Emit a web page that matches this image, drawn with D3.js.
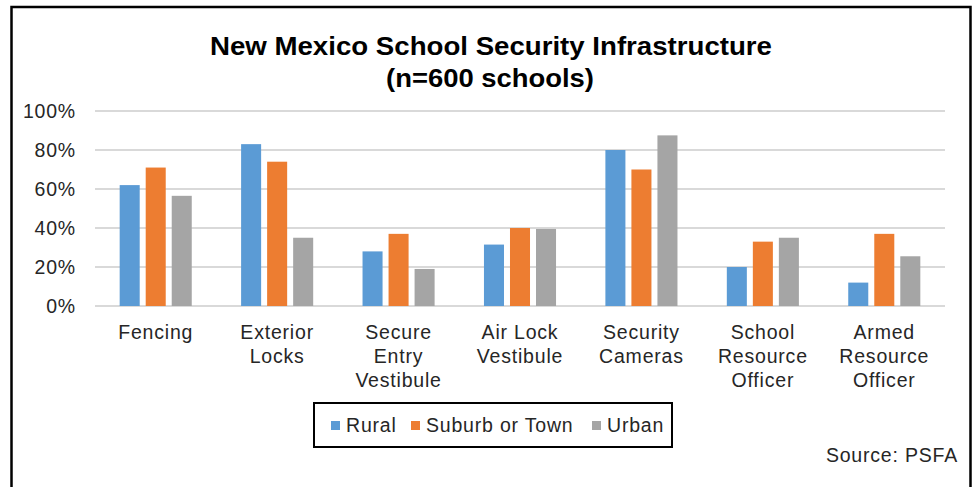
<!DOCTYPE html>
<html>
<head>
<meta charset="utf-8">
<script src="https://cdn.jsdelivr.net/npm/d3@7"></script>
<style>
  html, body { margin: 0; padding: 0; background: #fff; }
  svg { display: block; font-family: Arial, "Liberation Sans", sans-serif; }
  .lbl { font-size: 19.5px; letter-spacing: 0.8px; fill: #262626; }
</style>
</head>
<body>
<svg id="chart" width="974" height="487"></svg>
<script>
// Share of schools with each kind of security infrastructure, by locale
const categories = [
  ["Fencing"],
  ["Exterior", "Locks"],
  ["Secure", "Entry", "Vestibule"],
  ["Air Lock", "Vestibule"],
  ["Security", "Cameras"],
  ["School", "Resource", "Officer"],
  ["Armed", "Resource", "Officer"]
];
const seriesNames = ["Rural", "Suburb or Town", "Urban"];
const rural   = [0.62, 0.83, 0.28, 0.315, 0.80, 0.20, 0.12];
const suburb  = [0.71, 0.74, 0.37, 0.40, 0.70, 0.33, 0.37];
const urban   = [0.565, 0.35, 0.19, 0.395, 0.875, 0.35, 0.255];
const yTicks  = [0, 0.2, 0.4, 0.6, 0.8, 1.0];
const colors  = ["#5B9BD5", "#ED7D31", "#A5A5A5"];

const values = [rural, suburb, urban];
const catKeys = categories.map(c => c.join(" "));

const svg = d3.select("#chart");
const W = 974, H = 487;
const plot = { left: 95, right: 945, top: 111, bottom: 306 };

// Outer frame (left, top, right edges; runs past the bottom)
svg.append("path")
  .attr("d", `M11.5,${H} V7 H970.5 V${H}`)
  .attr("fill", "none").attr("stroke", "#000").attr("stroke-width", 2.5);

// Title
const title = svg.append("text")
  .attr("text-anchor", "middle")
  .attr("font-weight", "bold").attr("font-size", 25).attr("fill", "#000");
title.append("tspan").attr("x", 491).attr("y", 55)
  .attr("textLength", 562).attr("lengthAdjust", "spacingAndGlyphs")
  .text("New Mexico  School  Security  Infrastructure");
const title2 = svg.append("text")
  .attr("text-anchor", "middle")
  .attr("font-weight", "bold").attr("font-size", 25).attr("fill", "#000");
title2.append("tspan").attr("x", 490).attr("y", 87)
  .attr("textLength", 208).attr("lengthAdjust", "spacingAndGlyphs")
  .text("(n=600 schools)");

// Scales
const x0 = d3.scaleBand().domain(catKeys).range([plot.left, plot.right])
  .paddingInner(0.357).paddingOuter(0.1785);
const x1 = d3.scaleBand().domain(seriesNames).range([0, x0.bandwidth()]).padding(0);
const y = d3.scaleLinear().domain([0, 1]).range([plot.bottom, plot.top]);

// Gridlines
svg.append("g").selectAll("line").data(yTicks).join("line")
  .attr("x1", plot.left).attr("x2", plot.right)
  .attr("y1", d => y(d)).attr("y2", d => y(d))
  .attr("stroke", "#D9D9D9").attr("stroke-width", 2);

// Y axis labels
const yAxis = d3.axisLeft(y).tickValues(yTicks).tickFormat(d3.format(".0%"))
  .tickSize(0).tickPadding(0);
const gy = svg.append("g").attr("transform", `translate(76,0)`).call(yAxis);
gy.select(".domain").remove();
gy.attr("font-size", null).attr("font-family", null);
gy.selectAll("text").attr("class", "lbl");

// Bars
const inset = 3;
const groups = svg.append("g").selectAll("g").data(catKeys).join("g")
  .attr("transform", d => `translate(${x0(d)},0)`);
groups.selectAll("rect")
  .data((d, i) => seriesNames.map((s, j) => ({ s, j, v: values[j][i] })))
  .join("rect")
  .attr("x", d => x1(d.s) + inset)
  .attr("width", x1.bandwidth() - 2 * inset)
  .attr("y", d => y(d.v))
  .attr("height", d => y(0) - y(d.v))
  .attr("fill", d => colors[d.j]);

// Category labels (multi-line)
const xl = svg.append("g");
categories.forEach((lines, i) => {
  const cx = x0(catKeys[i]) + x0.bandwidth() / 2;
  const t = xl.append("text").attr("text-anchor", "middle").attr("class", "lbl");
  lines.forEach((ln, k) => {
    t.append("tspan").attr("x", cx).attr("y", 339 + k * 24).text(ln);
  });
});

// Legend
const legend = svg.append("g");
legend.append("rect").attr("x", 314).attr("y", 403).attr("width", 358).attr("height", 44)
  .attr("fill", "#fff").attr("stroke", "#000").attr("stroke-width", 2);
const legendX = [331, 411, 592];
seriesNames.forEach((s, j) => {
  legend.append("rect").attr("x", legendX[j]).attr("y", 421)
    .attr("width", 9).attr("height", 9).attr("fill", colors[j]);
  legend.append("text").attr("x", legendX[j] + 15).attr("y", 432)
    .attr("class", "lbl").text(s);
});

// Source note
svg.append("text").attr("x", 958).attr("y", 462).attr("text-anchor", "end")
  .attr("class", "lbl").text("Source: PSFA");
</script>
</body>
</html>
